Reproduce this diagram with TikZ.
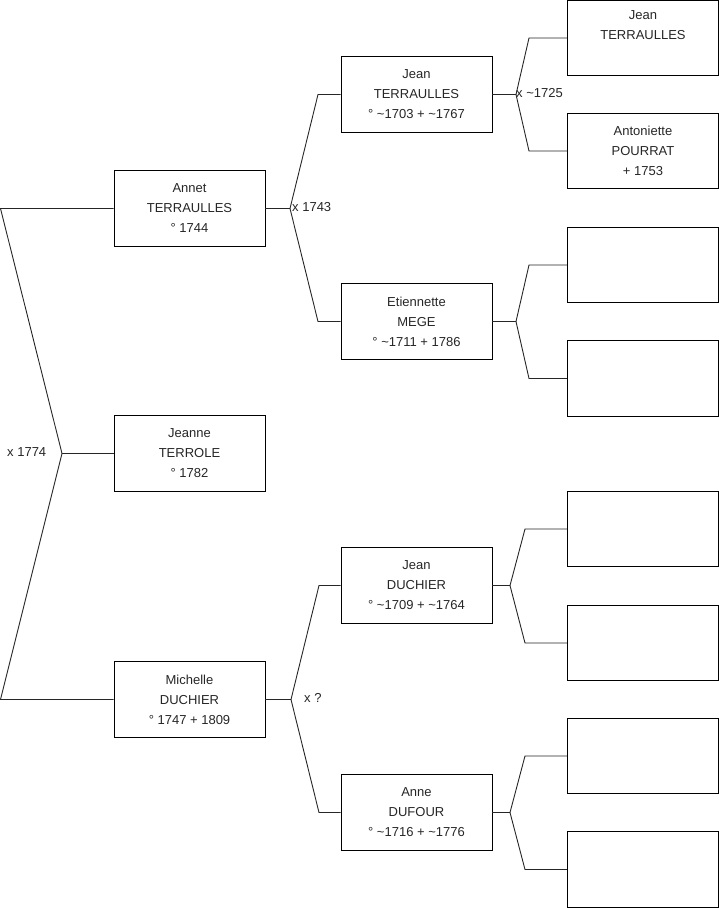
\documentclass[tikz,border=0pt]{standalone}
\usepackage{fontspec}
\setmainfont{Liberation Sans}
\newcommand{\tl}{\textasciitilde}
\begin{document}
\begin{tikzpicture}[x=1pt,y=-1pt,
  pbox/.style={draw=black,line width=0.9pt,rectangle,minimum width=151pt,minimum height=75.5pt,inner sep=0pt,align=center,font=\fontsize{13}{20}\selectfont,text=black!85},
  lbl/.style={anchor=west,inner sep=0pt,font=\fontsize{13}{16}\selectfont,text=black!85},
  conn/.style={line width=0.9pt,black!85}]
\useasboundingbox (0,0) rectangle (719,908);
% level 1
\node[pbox] (an) at (189.5,208.5) {Annet\\TERRAULLES\\° 1744};
\node[pbox] (je) at (189.5,453.5) {Jeanne\\TERROLE\\° 1782};
\node[pbox] (mi) at (189.5,699.5) {Michelle\\DUCHIER\\° 1747 + 1809};
% level 2
\node[pbox] (jt) at (416.5,94.5) {Jean\\TERRAULLES\\° \tl1703 + \tl1767};
\node[pbox] (et) at (416.5,321.5) {Etiennette\\MEGE\\° \tl1711 + 1786};
\node[pbox] (jd) at (416.5,585.5) {Jean\\DUCHIER\\° \tl1709 + \tl1764};
\node[pbox] (ad) at (416.5,812.5) {Anne\\DUFOUR\\° \tl1716 + \tl1776};
% level 3
\node[pbox] (g1) at (643,38) {Jean\\TERRAULLES\\\strut};
\node[pbox] (g2) at (643,151) {Antoniette\\POURRAT\\+ 1753};
\node[pbox] (g3) at (643,265) {};
\node[pbox] (g4) at (643,378.5) {};
\node[pbox] (g5) at (643,529) {};
\node[pbox] (g6) at (643,643) {};
\node[pbox] (g7) at (643,756) {};
\node[pbox] (g8) at (643,869.5) {};
% forks
\coordinate (v0) at (62,453.5);
\coordinate (v0a) at (0.5,208.5);
\coordinate (v0b) at (0.5,699.5);
\draw[conn] (je.west) -- (v0);
\draw[conn] (an.west) -- (v0a) -- (v0) -- (v0b) -- (mi.west);
\coordinate (v1) at (290,208.5);
\coordinate (v1a) at (318,94.5);
\coordinate (v1b) at (318,321.5);
\draw[conn] (an.east) -- (v1);
\draw[conn] (jt.west) -- (v1a) -- (v1) -- (v1b) -- (et.west);
\coordinate (v2) at (291,699.5);
\coordinate (v2a) at (319,585.5);
\coordinate (v2b) at (319,812.5);
\draw[conn] (mi.east) -- (v2);
\draw[conn] (jd.west) -- (v2a) -- (v2) -- (v2b) -- (ad.west);
\coordinate (v3) at (516,94.5);
\coordinate (v3a) at (529,38);
\coordinate (v3b) at (529,151);
\draw[conn] (jt.east) -- (v3);
\draw[conn] (g1.west) -- (v3a) -- (v3) -- (v3b) -- (g2.west);
\coordinate (v4) at (516,321.5);
\coordinate (v4a) at (529,265);
\coordinate (v4b) at (529,378.5);
\draw[conn] (et.east) -- (v4);
\draw[conn] (g3.west) -- (v4a) -- (v4) -- (v4b) -- (g4.west);
\coordinate (v5) at (510,585.5);
\coordinate (v5a) at (525,529);
\coordinate (v5b) at (525,643);
\draw[conn] (jd.east) -- (v5);
\draw[conn] (g5.west) -- (v5a) -- (v5) -- (v5b) -- (g6.west);
\coordinate (v6) at (510,812.5);
\coordinate (v6a) at (525,756);
\coordinate (v6b) at (525,869.5);
\draw[conn] (ad.east) -- (v6);
\draw[conn] (g7.west) -- (v6a) -- (v6) -- (v6b) -- (g8.west);
% labels
\node[lbl] (l0) at (7,452) {x 1774};
\node[lbl] (l1) at (292,207) {x 1743};
\node[lbl] (l3) at (516,93) {x \tl1725};
\node[lbl] (l2) at (304,698) {x ?};
\end{tikzpicture}
\end{document}
